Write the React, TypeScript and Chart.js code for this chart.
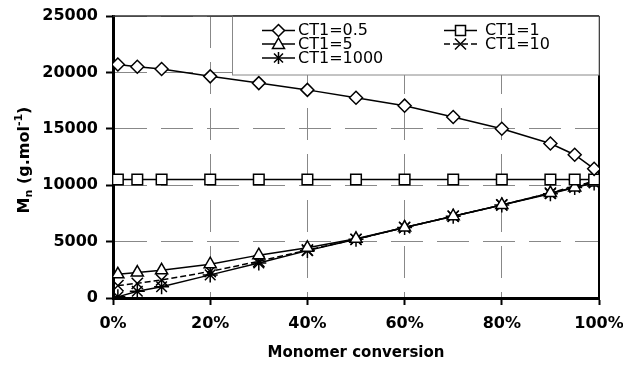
import React, { useEffect, useRef } from "react";
import { Chart, registerables } from "chart.js";

Chart.register(...registerables);

const conversion = [1, 5, 10, 20, 30, 40, 50, 60, 70, 80, 90, 95, 99];
const ct05 = [20700, 20500, 20300, 19650, 19050, 18450, 17750, 17050, 16050, 15000, 13700, 12700, 11450];
const ct1 = [10500, 10500, 10500, 10500, 10500, 10500, 10500, 10500, 10500, 10500, 10500, 10500, 10500];
const ct5 = [2100, 2250, 2450, 3000, 3800, 4450, 5250, 6250, 7250, 8250, 9300, 9800, 10250];
const ct10 = [1100, 1300, 1600, 2350, 3250, 4250, 5200, 6250, 7250, 8250, 9300, 9950, 10300];
const ct1000 = [100, 600, 1000, 2050, 3100, 4200, 5200, 6250, 7250, 8250, 9250, 9800, 10200];

const seriesLabels = ["CT1=0.5", "CT1=1", "CT1=5", "CT1=10", "CT1=1000"];
const yTitleMain = "M";
const yTitleSub = "n";
const yTitleMid = " (g.mol";
const yTitleSup = "-1";
const yTitleEnd = ")";
const xTitle = "Monomer conversion";

const FONT = "'DejaVu Sans', sans-serif";

function drawMarker(ctx: CanvasRenderingContext2D, style: string, x: number, y: number) {
  ctx.save();
  ctx.strokeStyle = "#000";
  ctx.fillStyle = "#fff";
  ctx.lineWidth = 1.5;
  ctx.setLineDash([]);
  ctx.beginPath();
  if (style === "rectRot") {
    const r = 6;
    ctx.moveTo(x, y - r);
    ctx.lineTo(x + r, y);
    ctx.lineTo(x, y + r);
    ctx.lineTo(x - r, y);
    ctx.closePath();
    ctx.fill();
    ctx.stroke();
  } else if (style === "rect") {
    const s = 5;
    ctx.rect(x - s, y - s, 2 * s, 2 * s);
    ctx.fill();
    ctx.stroke();
  } else if (style === "triangle") {
    const r = 6;
    ctx.moveTo(x, y - r);
    ctx.lineTo(x + r, y + r * 0.75);
    ctx.lineTo(x - r, y + r * 0.75);
    ctx.closePath();
    ctx.fill();
    ctx.stroke();
  } else if (style === "crossRot") {
    const r = 5.5;
    ctx.moveTo(x - r, y - r);
    ctx.lineTo(x + r, y + r);
    ctx.moveTo(x + r, y - r);
    ctx.lineTo(x - r, y + r);
    ctx.stroke();
  } else if (style === "star") {
    const r = 6;
    const d = r * 0.75;
    ctx.moveTo(x, y - r);
    ctx.lineTo(x, y + r);
    ctx.moveTo(x - d, y - d);
    ctx.lineTo(x + d, y + d);
    ctx.moveTo(x + d, y - d);
    ctx.lineTo(x - d, y + d);
    ctx.stroke();
  }
  ctx.restore();
}

const customPlugin = {
  id: "customDraw",
  beforeDatasetsDraw(chart: any) {
    const { ctx, chartArea } = chart;
    const { left, right, top, bottom } = chartArea;
    ctx.save();
    ctx.setLineDash([]);
    ctx.strokeStyle = "#333";
    ctx.lineWidth = 1.5;
    ctx.beginPath();
    ctx.moveTo(left, top);
    ctx.lineTo(right, top);
    ctx.stroke();
    ctx.strokeStyle = "#000";
    ctx.lineWidth = 2;
    ctx.beginPath();
    ctx.moveTo(right, top);
    ctx.lineTo(right, bottom);
    ctx.stroke();
    ctx.restore();
  },
  afterDatasetsDraw(chart: any) {
    const { ctx, chartArea } = chart;
    const { right, top } = chartArea;
    const bx = 232.5;
    const by = top;
    const bw = right - bx;
    const bh = 59;
    ctx.save();
    ctx.fillStyle = "#fff";
    ctx.fillRect(bx, by, bw, bh);
    ctx.strokeStyle = "#888";
    ctx.lineWidth = 1;
    ctx.strokeRect(bx, by, bw, bh);
    ctx.strokeStyle = "#333";
    ctx.lineWidth = 1.5;
    ctx.beginPath();
    ctx.moveTo(bx, by);
    ctx.lineTo(right, by);
    ctx.stroke();

    const cols = [262, 444];
    const rows = [30.5, 44, 58];
    const ds = chart.data.datasets;
    ds.forEach((d: any, i: number) => {
      const col = i % 2;
      const row = Math.floor(i / 2);
      const x0 = cols[col];
      const y = rows[row];
      const cx = x0 + 16.5;
      ctx.save();
      ctx.strokeStyle = "#000";
      ctx.lineWidth = 1.5;
      ctx.setLineDash(d.borderDash || []);
      ctx.beginPath();
      ctx.moveTo(x0, y);
      ctx.lineTo(x0 + 33, y);
      ctx.stroke();
      ctx.restore();
      drawMarker(ctx, d.pointStyle, cx, y);
      ctx.fillStyle = "#000";
      ctx.font = `16px ${FONT}`;
      ctx.textBaseline = "middle";
      ctx.textAlign = "left";
      ctx.fillText(d.label, x0 + (col === 0 ? 36 : 41), y + 0.5);
    });
    ctx.restore();
  },
  afterDraw(chart: any) {
    const { ctx, chartArea } = chart;
    const { left, right, top, bottom } = chartArea;
    ctx.save();
    ctx.fillStyle = "#000";
    ctx.font = `bold 15px ${FONT}`;
    ctx.textAlign = "center";
    ctx.textBaseline = "middle";
    ctx.fillText(xTitle, (left + right) / 2, 353);

    const big = `bold 16px ${FONT}`;
    const small = `bold 11px ${FONT}`;
    const parts = [
      { t: yTitleMain, f: big, dy: 0 },
      { t: yTitleSub, f: small, dy: 4 },
      { t: yTitleMid, f: big, dy: 0 },
      { t: yTitleSup, f: small, dy: -6 },
      { t: yTitleEnd, f: big, dy: 0 },
    ];
    let total = 0;
    parts.forEach((p) => {
      ctx.font = p.f;
      total += ctx.measureText(p.t).width;
    });
    ctx.translate(25, (top + bottom) / 2 + 3);
    ctx.rotate(-Math.PI / 2);
    ctx.textAlign = "left";
    ctx.textBaseline = "middle";
    let x = -total / 2;
    parts.forEach((p) => {
      ctx.font = p.f;
      ctx.fillText(p.t, x, p.dy);
      x += ctx.measureText(p.t).width;
    });
    ctx.restore();
  },
};

export default function App() {
  const ref = useRef<HTMLCanvasElement | null>(null);

  useEffect(() => {
    if (!ref.current) return;
    const mk = (vals: number[]) => conversion.map((c, i) => ({ x: c, y: vals[i] }));
    const common = {
      borderColor: "#000",
      borderWidth: 1.5,
      pointBorderColor: "#000",
      pointBackgroundColor: "#fff",
      pointBorderWidth: 1.5,
      fill: false,
      tension: 0,
    };
    const chart = new Chart(ref.current, {
      type: "line",
      data: {
        datasets: [
          { ...common, label: seriesLabels[0], data: mk(ct05), pointStyle: "rectRot", pointRadius: 6.5 },
          { ...common, label: seriesLabels[1], data: mk(ct1), pointStyle: "rect", pointRadius: 7.5 },
          { ...common, label: seriesLabels[2], data: mk(ct5), pointStyle: "triangle", pointRadius: 7 },
          { ...common, label: seriesLabels[3], data: mk(ct10), pointStyle: "crossRot", pointRadius: 8, borderDash: [6, 3] },
          { ...common, label: seriesLabels[4], data: mk(ct1000), pointStyle: "star", pointRadius: 7.5 },
        ],
      },
      options: {
        animation: false,
        responsive: false,
        events: [],
        layout: { padding: { top: 16, right: 24, left: 0, bottom: 0 } },
        plugins: {
          legend: { display: false },
          tooltip: { enabled: false },
          title: { display: false },
        },
        scales: {
          x: {
            type: "linear",
            min: 0,
            max: 100,
            afterFit: (s: any) => {
              s.height = 70;
              s.paddingLeft = 0;
              s.paddingRight = 0;
            },
            ticks: {
              stepSize: 20,
              color: "#000",
              padding: 9,
              font: { family: FONT, size: 16, weight: "bold" },
              callback: (v: any) => `${v}%`,
            },
            grid: {
              color: "#888",
              lineWidth: 1,
              tickColor: "#000",
              tickLength: 7,
              tickWidth: 2,
            },
            border: { display: true, color: "#000", width: 3, dash: [32, 14] },
          },
          y: {
            type: "linear",
            min: 0,
            max: 25000,
            afterFit: (s: any) => {
              s.width = 113;
              s.paddingTop = 0;
              s.paddingBottom = 0;
            },
            ticks: {
              stepSize: 5000,
              color: "#000",
              padding: 8,
              font: { family: FONT, size: 16, weight: "bold" },
              callback: (v: any) => `${v}`,
            },
            grid: {
              color: "#888",
              lineWidth: 1,
              tickColor: "#000",
              tickLength: 7,
              tickWidth: 2,
            },
            border: { display: true, color: "#000", width: 3, dash: [32, 14] },
          },
        },
      } as any,
      plugins: [customPlugin],
    });
    return () => chart.destroy();
  }, []);

  return (
    <div style={{ position: "fixed", left: 0, top: 0, width: 623, height: 368, background: "#fff" }}>
      <canvas ref={ref} width={623} height={368} style={{ display: "block" }} />
    </div>
  );
}
